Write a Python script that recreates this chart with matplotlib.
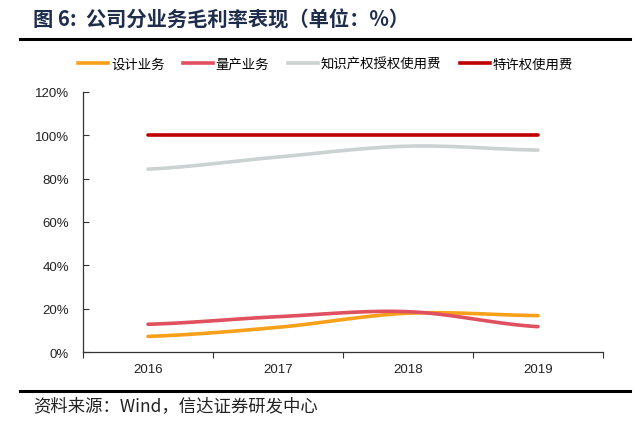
import numpy as np
import matplotlib
matplotlib.use("Agg")
import matplotlib.pyplot as plt
from matplotlib.lines import Line2D

plt.rcParams['font.family'] = ['Noto Sans CJK SC', 'DejaVu Sans']

# data (gross margin, %)
years = ['2016', '2017', '2018', '2019']
design = [7.2, 11.4, 17.9, 16.8]          # 设计业务
mass = [12.8, 16.3, 18.6, 11.7]           # 量产业务
ip_license = [84.4, 90.0, 95.0, 93.2]     # 知识产权授权使用费
royalty = [100.0, 100.0, 100.0, 100.0]    # 特许权使用费
series_names = ['设计业务', '量产业务', '知识产权授权使用费', '特许权使用费']
colors = ['#F9A01B', '#E0505F', '#CBD2D1', '#C00000']
yticks = [0, 20, 40, 60, 80, 100, 120]


def smooth(x, y, n=40):
    # catmull-rom style smoothing between the points, like excel smoothed lines
    x = np.asarray(x, float)
    y = np.asarray(y, float)
    px = np.concatenate([[2 * x[0] - x[1]], x, [2 * x[-1] - x[-2]]])
    py = np.concatenate([[y[0]], y, [y[-1]]])
    xs, ys = [], []
    t = np.linspace(0, 1, n)
    for i in range(1, len(px) - 2):
        p0, p1, p2, p3 = [np.array([px[j], py[j]]) for j in (i - 1, i, i + 1, i + 2)]
        c1 = p1 + (p2 - p0) / 6
        c2 = p2 - (p3 - p1) / 6
        pts = ((1 - t) ** 3)[:, None] * p1 + (3 * (1 - t) ** 2 * t)[:, None] * c1 \
            + (3 * (1 - t) * t ** 2)[:, None] * c2 + (t ** 3)[:, None] * p2
        xs.extend(pts[:, 0])
        ys.extend(pts[:, 1])
    return np.array(xs), np.array(ys)


fig = plt.figure(figsize=(6.4, 4.31), dpi=100)
ax = fig.add_axes([83 / 640, 1 - 353 / 431, 520 / 640, 260 / 431])

x = np.arange(len(years))
for vals, col in zip([design, mass, ip_license, royalty], colors):
    sx, sy = smooth(x, vals)
    ax.plot(sx, sy, color=col, lw=2.6, solid_capstyle='round')

num_font = dict(family=['Liberation Sans', 'DejaVu Sans'], size=9.5, color='#222222')
ax.set_xlim(-0.5, 3.5)
ax.set_ylim(0, 120)
ax.set_yticks(yticks)
ax.set_yticklabels([f'{v}%' for v in yticks], **num_font)
ax.set_xticks(np.arange(-0.5, 4, 1))
ax.set_xticklabels([])
ax.set_xticks(x, minor=True)
ax.set_xticklabels(years, minor=True, **num_font)
ax.tick_params(axis='x', which='minor', length=0, pad=8)
ax.tick_params(axis='x', which='major', length=4, direction='out', color='#333333')
ax.tick_params(axis='y', length=4, direction='in', color='#333333', pad=10)
for s in ['top', 'right']:
    ax.spines[s].set_visible(False)
for s in ['left', 'bottom']:
    ax.spines[s].set_color('#333333')
    ax.spines[s].set_linewidth(0.9)

handles = [Line2D([0], [0], color=c, lw=2.6) for c in colors]
fig.legend(handles, series_names, loc='center', bbox_to_anchor=(325.5 / 640, 1 - 65 / 431),
           ncol=4, frameon=False, fontsize=9.6, handlelength=2.25, handletextpad=0.2,
           columnspacing=1.4, borderpad=0, borderaxespad=0)

# title, rules, source
fig.text(33 / 640, 1 - 20 / 431, '图 6:  公司分业务毛利率表现（单位：%）', fontsize=14.6,
         fontweight='bold', color='#1F2D4D', va='center', ha='left')
fig.add_artist(Line2D([20 / 640, 630 / 640], [1 - 40 / 431, 1 - 40 / 431], color='black', lw=2.2))
fig.add_artist(Line2D([20 / 640, 630 / 640], [1 - 392 / 431, 1 - 392 / 431], color='black', lw=2.2))
fig.text(33 / 640, 1 - 406 / 431, '资料来源：Wind，信达证券研发中心', fontsize=12.5,
         style='italic', color='#222222', va='center', ha='left')

fig.savefig('out.png', dpi=100)
